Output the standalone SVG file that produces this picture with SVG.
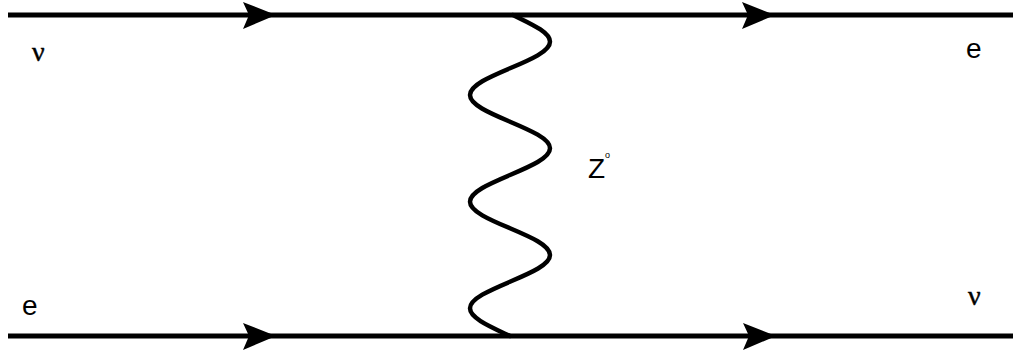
<svg xmlns="http://www.w3.org/2000/svg" width="1013" height="358" viewBox="0 0 1013 358">
<defs>
<style>
.line{stroke:#000;stroke-width:5;fill:none}
.wave{stroke:#000;stroke-width:4.5;fill:none;stroke-linecap:round}
.arrow{fill:#000}
.sans{font-family:"Liberation Sans",Arial,sans-serif;fill:#000}
.serif{font-family:"Liberation Serif","Times New Roman",serif;fill:#000}
</style>
<polygon id="ah" points="-32,-13 1,0 -32,14 -26,0"/>
</defs>
<rect width="1013" height="358" fill="#fff"/>
<g id="connectors">
<line class="line" x1="8" y1="15" x2="1013" y2="15"/>
<line class="line" x1="8" y1="336" x2="1013" y2="336"/>
<use href="#ah" class="arrow" x="275" y="15"/>
<use href="#ah" class="arrow" x="774" y="15"/>
<use href="#ah" class="arrow" x="275" y="336"/>
<use href="#ah" class="arrow" x="775" y="336"/>
<path id="z-boson" class="wave" d="M513,15 C530.5,23.7 550,32 550,41.7 C550,51.3 530.5,59.6 510,68.3 C489.5,77 470,85.3 470,95 C470,104.7 489.5,112.9 510,121.7 C530.5,130.4 550,138.7 550,148.3 C550,158 530.5,166.3 510,175 C489.5,183.7 470,192 470,201.7 C470,211.3 489.5,219.6 510,228.3 C530.5,237 550,245.3 550,255 C550,264.7 530.5,272.9 510,281.7 C489.5,290.4 470,298.7 470,308.3 C470,318 489.5,326.3 510,336"/>
</g>
<g id="label-nu-in"><text class="serif" x="32" y="61" font-size="28" stroke="#000" stroke-width="0.5">ν</text></g>
<g id="label-e-out"><text class="sans" x="966" y="58" font-size="28">e</text></g>
<g id="label-e-in"><text class="sans" x="22" y="315" font-size="28">e</text></g>
<g id="label-nu-out"><text class="serif" x="968" y="305" font-size="28" stroke="#000" stroke-width="0.5">ν</text></g>
<g id="label-z"><text class="sans" x="588" y="178" font-size="28">Z<tspan font-size="9" dy="-20">o</tspan></text></g>
</svg>
